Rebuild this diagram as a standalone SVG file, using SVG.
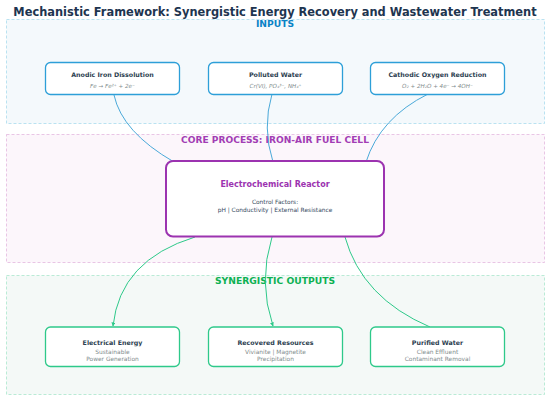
<svg xmlns="http://www.w3.org/2000/svg" width="550" height="401" viewBox="0 0 550 401">
<defs>
<style>
text{font-family:"DejaVu Sans",sans-serif;text-anchor:middle}
.sec{stroke-width:0.8;stroke-dasharray:3,2}
.lbl{font-weight:bold}
.node{fill:#ffffff;stroke-width:1.3}
.in{stroke:#2d9fd8}
.out{stroke:#2ec98a}
.nt{font-weight:bold;font-size:6.3px;fill:#2c3e50}
.fm{font-style:italic;font-size:5.6px;fill:#7f8c8d}
.sub{font-size:5.9px;fill:#7f8c8d}
.cb{fill:none;stroke:#4aa9d9;stroke-width:1}
.cg{fill:none;stroke:#2ec98a;stroke-width:1}
</style>
<marker id="ag" viewBox="0 0 10 10" refX="9" refY="5" markerWidth="4" markerHeight="4" orient="auto">
<path d="M0,0 L10,5 L0,10 z" fill="#2ec98a"/>
</marker>
</defs>
<rect width="550" height="401" fill="#ffffff"/>
<text x="275" y="15.5" class="lbl" font-size="11.4" fill="#1e3550">Mechanistic Framework: Synergistic Energy Recovery and Wastewater Treatment</text>

<g id="sec-inputs">
<rect class="sec" x="6.5" y="19.5" width="538" height="104" fill="#f4f9fc" stroke="#a9dbee"/>
<text x="275" y="27" class="lbl" font-size="9.2" fill="#0a83c6">INPUTS</text>
</g>
<g id="sec-core">
<rect class="sec" x="6.5" y="134.5" width="538" height="128" fill="#fcf6fb" stroke="#e3b7de"/>
<text x="275" y="143" class="lbl" font-size="9.1" fill="#a23db4">CORE PROCESS: IRON-AIR FUEL CELL</text>
</g>
<g id="sec-outputs">
<rect class="sec" x="6.5" y="275.5" width="538" height="119" fill="#f4f9f7" stroke="#a9e6cd"/>
<text x="275" y="284" class="lbl" font-size="9.2" fill="#0db153">SYNERGISTIC OUTPUTS</text>
</g>

<g id="connectors">
<path class="cb" d="M114,95 Q122,132 174,162"/>
<path class="cb" d="M272,94 Q262,128 273,162"/>
<path class="cb" d="M428,94 Q380,118 366,162"/>
<path class="cg" d="M195,237 Q120,260 113,326" marker-end="url(#ag)"/>
<path class="cg" d="M272,237 Q258,282 273,326" marker-end="url(#ag)"/>
<path class="cg" d="M345,237 Q362,298 430,327"/>
</g>

<g id="n-anodic">
<rect class="node in" x="45.5" y="62.5" width="134" height="32" rx="5"/>
<text x="112.5" y="76.5" class="nt">Anodic Iron Dissolution</text>
<text x="112.5" y="88" class="fm">Fe → Fe²⁺ + 2e⁻</text>
</g>
<g id="n-polluted">
<rect class="node in" x="208.5" y="62.5" width="134" height="32" rx="5"/>
<text x="275.5" y="76.5" class="nt">Polluted Water</text>
<text x="275.5" y="88" class="fm">Cr(VI), PO₄³⁻, NH₄⁺</text>
</g>
<g id="n-cathodic">
<rect class="node in" x="370.5" y="62.5" width="134" height="32" rx="5"/>
<text x="437.5" y="76.5" class="nt">Cathodic Oxygen Reduction</text>
<text x="437.5" y="88" class="fm">O₂ + 2H₂O + 4e⁻ → 4OH⁻</text>
</g>

<g id="n-reactor">
<rect x="166" y="161" width="218" height="75.5" rx="7" fill="#ffffff" stroke="#9c33b0" stroke-width="2"/>
<text x="275" y="187" class="lbl" font-size="8" fill="#9c33b0">Electrochemical Reactor</text>
<text x="275" y="203.5" font-size="5.9" fill="#34495e">Control Factors:</text>
<text x="275" y="211.5" font-size="5.9" fill="#34495e">pH | Conductivity | External Resistance</text>
</g>

<g id="n-energy">
<rect class="node out" x="45.5" y="327" width="134" height="39.5" rx="5"/>
<text x="112.5" y="345" class="nt">Electrical Energy</text>
<text x="112.5" y="354" class="sub">Sustainable</text>
<text x="112.5" y="360.5" class="sub">Power Generation</text>
</g>
<g id="n-resources">
<rect class="node out" x="208.5" y="327" width="134" height="39.5" rx="5"/>
<text x="275.5" y="345" class="nt">Recovered Resources</text>
<text x="275.5" y="354" class="sub">Vivianite | Magnetite</text>
<text x="275.5" y="360.5" class="sub">Precipitation</text>
</g>
<g id="n-purified">
<rect class="node out" x="370.5" y="327" width="134" height="39.5" rx="5"/>
<text x="437.5" y="345" class="nt">Purified Water</text>
<text x="437.5" y="354" class="sub">Clean Effluent</text>
<text x="437.5" y="360.5" class="sub">Contaminant Removal</text>
</g>
</svg>
